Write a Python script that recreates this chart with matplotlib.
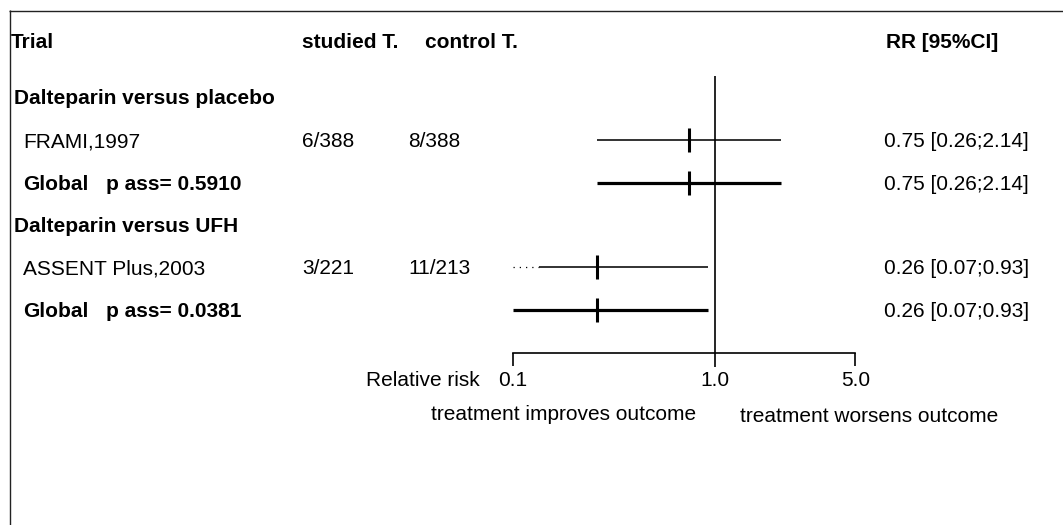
import matplotlib
matplotlib.use("Agg")
import matplotlib.pyplot as plt
import numpy as np

# ---------------- data ----------------
groups = ["Dalteparin versus placebo", "Dalteparin versus UFH"]
trials = ["FRAMI,1997", "ASSENT Plus,2003"]
studied_events = ["6/388", "3/221"]
control_events = ["8/388", "11/213"]
trial_rr = [0.75, 0.26]
trial_lo = [0.26, 0.07]
trial_hi = [2.14, 0.93]
global_rr = [0.75, 0.26]
global_lo = [0.26, 0.07]
global_hi = [2.14, 0.93]
p_ass = ["0.5910", "0.0381"]
axis_ticks = [0.1, 1.0, 5.0]
axis_tick_labels = ["0.1", "1.0", "5.0"]
headers = ["Trial", "studied T.", "control T.", "RR [95%CI]"]

# ---------------- layout / style ----------------
W, H = 1063, 525
DPI = 100
X_ONE = 714.5          # pixel of RR = 1
PX_PER_DECADE = 201.5
FS = 15
FONT = ["Liberation Sans", "DejaVu Sans"]
plt.rcParams["font.family"] = FONT

fig = plt.figure(figsize=(W / DPI, H / DPI), dpi=DPI)
fig.patch.set_facecolor("white")

# pixel axes for text / frame
tx = fig.add_axes([0, 0, 1, 1])
tx.set_xlim(0, W)
tx.set_ylim(H, 0)
tx.axis("off")

# log axes for the forest marks
ax = fig.add_axes([0, 0, 1, 1])
ax.set_xscale("log")
ax.set_xlim(10 ** (-X_ONE / PX_PER_DECADE), 10 ** ((W - X_ONE) / PX_PER_DECADE))
ax.set_ylim(H, 0)
ax.axis("off")
ax.patch.set_alpha(0)

# frame (extends past the figure on right/bottom)
tx.plot([9.5, 9.5], [10, H + 5], color="#222222", lw=1.0, solid_capstyle="butt")
tx.plot([9, W + 5], [10.5, 10.5], color="#222222", lw=1.0, solid_capstyle="butt")

# row centres (pixels)
y_header = 40
y_group = [97, 224.5]
y_trial = [139.5, 267]
y_global = [182.5, 309.5]
BASE = 7.5  # baseline offset from row centre


def txt(x, y, s, bold=False, ha="left"):
    tx.text(x, y + BASE, s, fontsize=FS, fontweight="bold" if bold else "normal",
            ha=ha, va="baseline", color="black")


# headers
hx = [11, 302, 425, 886]
for x, s in zip(hx, headers):
    txt(x, y_header, s, bold=True)

axmin = axis_ticks[0]
axmax = axis_ticks[-1]
TRUNC_DOTTED_DECADES = 0.13
TICK_HALF = 12

for i in range(len(groups)):
    txt(14, y_group[i], groups[i], bold=True)
    # individual trial
    txt(23, y_trial[i], trials[i])
    txt(302, y_trial[i], studied_events[i])
    txt(408, y_trial[i], control_events[i])
    txt(884, y_trial[i], f"{trial_rr[i]:.2f} [{trial_lo[i]:.2f};{trial_hi[i]:.2f}]")
    lo = trial_lo[i]
    hi = trial_hi[i]
    if lo < axmin:
        start = axmin * 10 ** TRUNC_DOTTED_DECADES
        ax.plot([axmin, start], [y_trial[i]] * 2, color="black", lw=0.9,
                ls=(0, (1, 4)))
        lo = start
    ax.plot([lo, min(hi, axmax)], [y_trial[i]] * 2, color="#222222", lw=1.3,
            solid_capstyle="butt")
    ax.plot([trial_rr[i]] * 2, [y_trial[i] - TICK_HALF, y_trial[i] + TICK_HALF],
            color="black", lw=2.2, solid_capstyle="butt")

    # global
    txt(23, y_global[i], "Global", bold=True)
    txt(106, y_global[i], f"p ass= {p_ass[i]}", bold=True)
    txt(884, y_global[i], f"{global_rr[i]:.2f} [{global_lo[i]:.2f};{global_hi[i]:.2f}]")
    ax.plot([max(global_lo[i], axmin), min(global_hi[i], axmax)], [y_global[i]] * 2,
            color="black", lw=2.3, solid_capstyle="butt")
    ax.plot([global_rr[i]] * 2, [y_global[i] - TICK_HALF, y_global[i] + TICK_HALF],
            color="black", lw=2.2, solid_capstyle="butt")

# reference line at RR = 1
ax.plot([1.0, 1.0], [76, 367], color="black", lw=1.2, solid_capstyle="butt")

# scale bracket
y_scale = 352.5
ax.plot([axmin, axmax], [y_scale, y_scale], color="black", lw=1.2)
for t in (axmin, axmax):
    ax.plot([t, t], [y_scale, 366], color="black", lw=1.2, solid_capstyle="butt")
for t, lab in zip(axis_ticks, axis_tick_labels):
    ax.text(t, 385.5, lab, fontsize=FS, ha="center", va="baseline")
tx.text(480, 385.5, "Relative risk", fontsize=FS, ha="right", va="baseline")
tx.text(696, 420, "treatment improves outcome", fontsize=FS, ha="right", va="baseline")
tx.text(740, 421.5, "treatment worsens outcome", fontsize=FS, ha="left", va="baseline")

fig.savefig("out.png", dpi=DPI, facecolor="white")
